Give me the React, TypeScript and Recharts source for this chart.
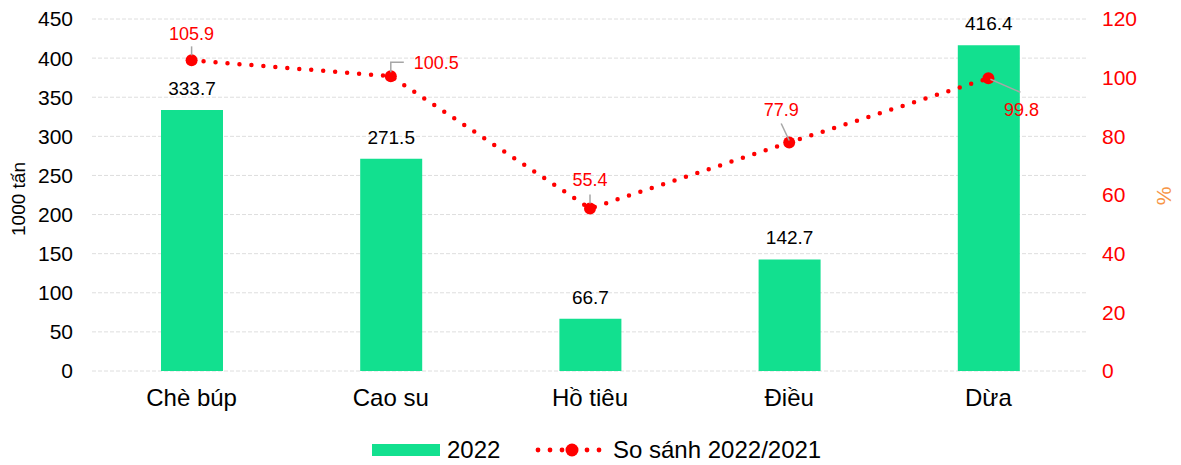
import {
  ComposedChart,
  Bar,
  Line,
  XAxis,
  YAxis,
  CartesianGrid,
  Legend,
  LabelList,
  Label,
} from "recharts";

const categories = ["Chè búp", "Cao su", "Hồ tiêu", "Điều", "Dừa"];
const output2022 = [333.7, 271.5, 66.7, 142.7, 416.4];
const ratio2022vs2021 = [105.9, 100.5, 55.4, 77.9, 99.8];
const leftTicks = [0, 50, 100, 150, 200, 250, 300, 350, 400, 450];
const rightTicks = [0, 20, 40, 60, 80, 100, 120];

const FONT = "'Liberation Sans', Arial, sans-serif";
const GREEN = "#12E08F";
const RED = "#FF0000";
const LEADER = "#a6a6a6";

const data = categories.map((name, i) => ({
  name,
  output: output2022[i],
  ratio: ratio2022vs2021[i],
}));

// where each ratio label sits relative to its point, plus its leader line
const labelPlacement = [
  { kind: "up", dx: 0, dy: -27 },
  { kind: "elbow", dx: 23, dy: -14 },
  { kind: "up", dx: 0, dy: -29 },
  { kind: "slant", dx: -8, dy: -33 },
  { kind: "down", dx: 33, dy: 31 },
];

function RatioLabel(props: any) {
  const { x, y, value, index } = props;
  const p = labelPlacement[index];
  const tx = x + p.dx;
  const ty = y + p.dy;
  let leader = null;
  let anchor: "middle" | "start" = "middle";
  if (p.kind === "up") {
    leader = <line x1={x} y1={y - 5} x2={x} y2={y - 14} stroke={LEADER} strokeWidth={1.5} />;
  } else if (p.kind === "elbow") {
    anchor = "start";
    leader = (
      <polyline
        points={`${x},${y - 4} ${x},${y - 14} ${x + 13},${y - 14}`}
        fill="none"
        stroke={LEADER}
        strokeWidth={1.5}
      />
    );
  } else if (p.kind === "slant") {
    leader = <line x1={x} y1={y - 2} x2={x - 8} y2={y - 19} stroke={LEADER} strokeWidth={1.5} />;
  } else {
    leader = <line x1={x + 2} y1={y + 1} x2={x + 32} y2={y + 14} stroke={LEADER} strokeWidth={1.5} />;
  }
  return (
    <g>
      {leader}
      <text x={tx} y={ty} dy="0.35em" textAnchor={anchor} fill={RED} fontSize={18} fontFamily={FONT}>
        {value}
      </text>
    </g>
  );
}

function LegendContent() {
  return (
    <svg width={1181} height={30} style={{ display: "block" }}>
      <rect x={372} y={9} width={68} height={12} fill={GREEN} />
      <text x={447} y={15} dy="0.35em" fontSize={24} fontFamily={FONT} fill="#000">
        2022
      </text>
      {[538, 550, 562, 587, 599].map((cx) => (
        <circle key={cx} cx={cx} cy={15} r={2.4} fill={RED} />
      ))}
      <circle cx={572} cy={15} r={6.5} fill={RED} />
      <text x={613} y={15} dy="0.35em" fontSize={24} fontFamily={FONT} fill="#000">
        So sánh 2022/2021
      </text>
    </svg>
  );
}

export default function App() {
  return (
    <div style={{ position: "absolute", left: 0, top: 0, background: "#fff" }}>
      <ComposedChart
        width={1181}
        height={465}
        data={data}
        margin={{ top: 19, right: 0, bottom: 0, left: 0 }}
        barCategoryGap={0}
      >
        <CartesianGrid vertical={false} stroke="#dedede" strokeDasharray="4 2" yAxisId="left" />
        <XAxis
          dataKey="name"
          axisLine={false}
          tickLine={false}
          tickMargin={12}
          tick={{ fontSize: 24, fill: "#000", fontFamily: FONT }}
          interval={0}
          height={64}
        />
        <YAxis
          yAxisId="left"
          width={92}
          domain={[0, 450]}
          ticks={leftTicks}
          axisLine={false}
          tickLine={false}
          tickMargin={13}
          tick={{ fontSize: 21, fill: "#000", fontFamily: FONT }}
        >
          <Label
            content={() => (
              <text
                x={25}
                y={199}
                transform="rotate(-90 25 199)"
                textAnchor="middle"
                fontSize={19}
                fontFamily={FONT}
                fill="#000"
              >
                1000 tấn
              </text>
            )}
          />
        </YAxis>
        <YAxis
          yAxisId="right"
          orientation="right"
          width={93}
          domain={[0, 120]}
          ticks={rightTicks}
          axisLine={false}
          tickLine={false}
          tickMargin={8}
          tick={{ fontSize: 21, fill: RED, fontFamily: FONT }}
        >
          <Label
            content={() => (
              <text
                x={1171}
                y={196}
                transform="rotate(-90 1171 196)"
                textAnchor="middle"
                fontSize={21}
                fontFamily={FONT}
                fill="#F79646"
              >
                %
              </text>
            )}
          />
        </YAxis>
        <Legend verticalAlign="bottom" height={30} content={<LegendContent />} />
        <Bar yAxisId="left" dataKey="output" fill={GREEN} barSize={62} isAnimationActive={false}>
          <LabelList
            dataKey="output"
            position="top"
            offset={15}
            fill="#000"
            fontSize={19}
            fontFamily={FONT}
          />
        </Bar>
        <Line
          yAxisId="right"
          dataKey="ratio"
          stroke={RED}
          strokeWidth={4.5}
          strokeDasharray="0 12"
          strokeLinecap="round"
          dot={{ r: 6, fill: RED, stroke: RED, strokeWidth: 0 }}
          activeDot={false}
          isAnimationActive={false}
        >
          <LabelList dataKey="ratio" content={<RatioLabel />} />
        </Line>
      </ComposedChart>
    </div>
  );
}
